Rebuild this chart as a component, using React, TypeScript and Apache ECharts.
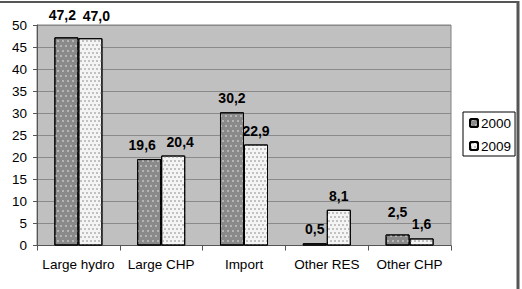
import React, { useEffect, useRef } from "react";
import * as echarts from "echarts";

const categories = ["Large hydro", "Large CHP", "Import", "Other RES", "Other CHP"];
const values2000 = [47.2, 19.6, 30.2, 0.5, 2.5];
const values2009 = [47.0, 20.4, 22.9, 8.1, 1.6];
const seriesNames = ["2000", "2009"];

const FONT = "'Liberation Sans', Arial, sans-serif";

export default function App() {
  const ref = useRef<HTMLDivElement>(null);
  useEffect(() => {
    if (!ref.current) return;
    const chart = echarts.init(ref.current, null, { renderer: "svg" });
    const fmt = (p: any) => Number(p.value).toFixed(1).replace(".", ",");
    // label adjustments (collision avoidance as in the original)
    const adj2000: Record<number, any> = {
      0: { distance: 15, offset: [-4, 0] },
      1: { offset: [-7, 0] },
      4: { distance: 15 },
    };
    const adj2009: Record<number, any> = { 0: { distance: 15, offset: [6, 0] }, 1: { offset: [7, 0] } };
    const mkData = (vals: number[], adj: Record<number, any>) =>
      vals.map((v, i) => (adj[i] ? { value: v, label: adj[i] } : v));
    const labelCfg = {
      show: true,
      position: "top",
      distance: 7,
      fontFamily: FONT,
      fontWeight: "bold",
      fontSize: 14,
      color: "#000",
      formatter: fmt,
    };
    chart.setOption({
      animation: false,
      backgroundColor: "#fff",
      textStyle: { fontFamily: FONT },
      grid: {
        left: 37,
        right: 71,
        top: 25,
        bottom: 43.5,
        show: true,
        backgroundColor: "#c0c0c0",
        borderColor: "#808080",
        borderWidth: 1,
        containLabel: false,
      },
      legend: {
        orient: "vertical",
        left: 463,
        top: 112,
        width: 50,
        itemWidth: 8,
        itemHeight: 8,
        itemGap: 9,
        padding: [4, 4, 3, 6],
        borderColor: "#000",
        borderWidth: 1,
        backgroundColor: "#fff",
        borderRadius: 0,
        data: seriesNames,
        textStyle: { fontFamily: FONT, fontSize: 13.5, color: "#000", padding: [0, 0, 0, -2] },
      },
      xAxis: {
        type: "category",
        data: categories,
        axisLine: { lineStyle: { color: "#555", width: 1 } },
        axisTick: { show: true, length: 5, lineStyle: { color: "#555" } },
        axisLabel: { interval: 0, margin: 12, fontSize: 13.5, color: "#000", fontFamily: FONT },
      },
      yAxis: {
        type: "value",
        min: 0,
        max: 50,
        interval: 5,
        axisLine: { show: true, lineStyle: { color: "#555", width: 1 } },
        axisTick: { show: true, length: 4, lineStyle: { color: "#555" } },
        axisLabel: { margin: 10, fontSize: 13.5, color: "#000", fontFamily: FONT },
        splitLine: { show: true, lineStyle: { color: "#8a8a8a", width: 1 } },
      },
      series: [
        {
          name: seriesNames[0],
          type: "bar",
          data: mkData(values2000, adj2000),
          barGap: "0%",
          barCategoryGap: "42%",
          itemStyle: {
            color: "#8a8a8a",
            borderColor: "#000",
            borderWidth: 1,
            decal: {
              symbol: "rect",
              symbolSize: 1,
              color: "rgba(200,200,200,0.7)",
              dashArrayX: [[1.5, 2.5], [0, 2, 1.5, 0.5]],
              dashArrayY: [1.5, 2.5],
              rotation: 0,
            },
          },
          label: labelCfg,
        },
        {
          name: seriesNames[1],
          type: "bar",
          data: mkData(values2009, adj2009),
          barGap: "0%",
          barCategoryGap: "42%",
          itemStyle: {
            color: "#f4f4f4",
            borderColor: "#000",
            borderWidth: 1,
            decal: {
              symbol: "rect",
              symbolSize: 1,
              color: "rgba(180,180,180,0.8)",
              dashArrayX: [[1.5, 1.5], [0, 1.5, 1.5, 0]],
              dashArrayY: [1.5, 1.5],
              rotation: 0,
            },
          },
          label: labelCfg,
        },
      ],
      graphic: [
        { type: "line", shape: { x1: 0, y1: 2, x2: 519, y2: 2 }, style: { stroke: "#555", lineWidth: 2 } },
        { type: "line", shape: { x1: 518, y1: 1, x2: 518, y2: 289 }, style: { stroke: "#555", lineWidth: 3 } },
      ],
    });
    return () => chart.dispose();
  }, []);
  return (
    <div
      ref={ref}
      style={{ position: "fixed", left: 0, top: 0, width: 522, height: 289 }}
    />
  );
}
